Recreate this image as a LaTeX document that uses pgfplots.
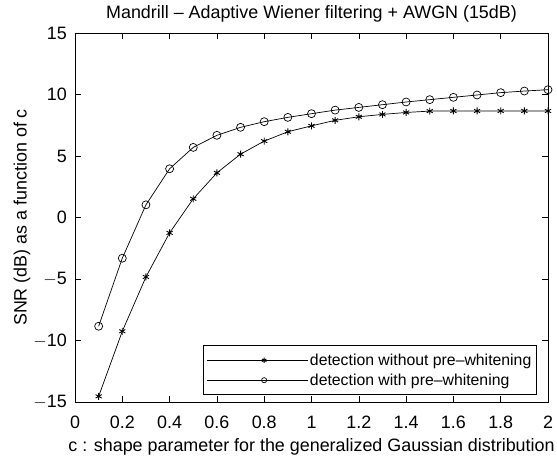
\documentclass[border=0pt]{standalone}
\usepackage{fontspec}
\setmainfont{Liberation Sans}
\usepackage{pgfplots}
\pgfplotsset{compat=1.18}
\begin{document}
\begin{tikzpicture}
\begin{axis}[
  name=ax,
  scale only axis,
  width=473pt, height=369pt,
  xmin=0, xmax=2, ymin=-15, ymax=15,
  xtick={0,0.2,...,2.0},
  xticklabels={0,0.2,0.4,0.6,0.8,1,1.2,1.4,1.6,1.8,2},
  ytick={-15,-10,-5,0,5,10,15},
  yticklabels={$-$15,$-$10,$-$5,0,5,10,15},
  tick align=inside,
  major tick length=6pt,
  tick style={black, line width=0.6pt},
  axis line style={line width=0.6pt},
  /pgf/number format/assume math mode=true,
  font=\fontsize{17.9}{20}\selectfont,
  xticklabel style={inner sep=0pt, yshift=-13.5pt},
  yticklabel style={inner sep=0pt, xshift=-8pt},
  title={Mandrill – Adaptive Wiener filtering + AWGN (15dB)},
  title style={at={(axis description cs:0.5,1.036)}, anchor=center, inner sep=0pt},
  xlabel={c : shape parameter for the generalized Gaussian distribution},
  ylabel={SNR (dB) as a function of c},
  xlabel style={at={(axis description cs:0.5,-0.122)}, anchor=center, inner sep=0pt},
  ylabel style={at={(axis description cs:-0.112,0.5)}, anchor=center, inner sep=0pt},
  legend style={at={(0.976,0.019)}, anchor=south east, draw=black, line width=0.6pt,
    font=\fontsize{15.8}{18}\selectfont, row sep=3pt, inner xsep=3pt, inner ysep=6pt, cells={anchor=west}},
  legend image code/.code={%
    \path (-16pt,0pt) -- (85pt,0pt);
    \draw[#1, mark size=2.6pt, mark repeat=2, mark phase=2] plot coordinates {(0pt,0pt) (41.5pt,0pt) (83pt,0pt)};},
]
\addplot[black, line width=0.7pt, mark=asterisk, mark size=3.5pt, mark options={solid, line width=0.9pt}] coordinates {
(0.1,-14.54) (0.2,-9.25) (0.3,-4.83) (0.4,-1.25) (0.5,1.52) (0.6,3.63) (0.7,5.15)
(0.8,6.21) (0.9,6.97) (1.0,7.45) (1.1,7.9) (1.2,8.19) (1.3,8.38) (1.4,8.54)
(1.5,8.65) (1.6,8.66) (1.7,8.66) (1.8,8.66) (1.9,8.66) (2.0,8.66)
};
\addlegendentry{detection without pre–whitening}
\addplot[black, line width=0.7pt, mark=o, mark size=4pt, mark options={solid, line width=0.7pt}] coordinates {
(0.1,-8.84) (0.2,-3.31) (0.3,1.03) (0.4,3.96) (0.5,5.70) (0.6,6.68) (0.7,7.33)
(0.8,7.79) (0.9,8.14) (1.0,8.44) (1.1,8.73) (1.2,8.95) (1.3,9.17) (1.4,9.39)
(1.5,9.58) (1.6,9.77) (1.7,9.96) (1.8,10.15) (1.9,10.28) (2.0,10.39)
};
\addlegendentry{detection with pre–whitening}
\end{axis}
\useasboundingbox ([shift={(-75pt,-55pt)}]ax.south west) rectangle ([shift={(9pt,33pt)}]ax.north east);
\end{tikzpicture}
\end{document}
